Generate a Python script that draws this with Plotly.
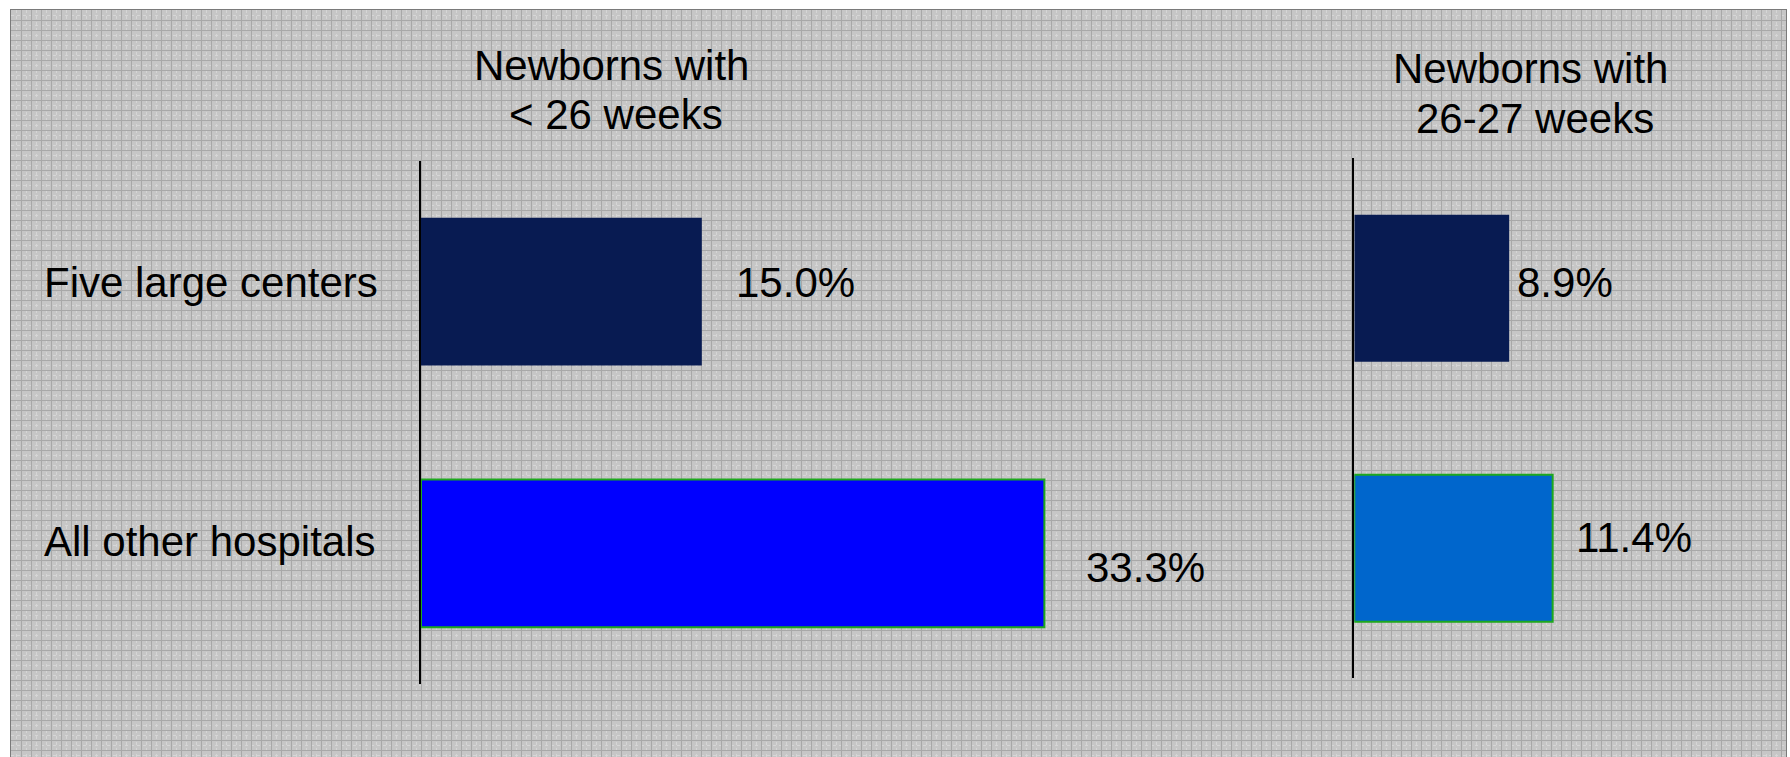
import plotly.graph_objects as go

# ---- data ----
categories = ["Five large centers", "All other hospitals"]
pct_under_26 = [15.0, 33.3]
pct_26_27 = [8.9, 11.4]
title_line1 = ["Newborns with", "Newborns with"]
title_line2 = ["&lt; 26 weeks", "26-27 weeks"]

# ---- styles ----
FONT = "Liberation Sans, Arial, sans-serif"
FS = 42
NAVY = "#081B52"
colors_left = [NAVY, "#0000FF"]
colors_right = [NAVY, "#0066CC"]
outline_colors = [NAVY, "#1EA81E"]
outline_widths = [0, 2]
# label offsets in px (x from bar end, y upward)
dx_left, dy_left = [32, 40], [9, -14]
dx_right, dy_right = [6, 21], [6, 11]
cat_dy = [9, 12]

W, H = 1790, 757

fig = go.Figure()

# background texture subplot (empty)
fig.add_trace(go.Scatter(x=[], y=[], xaxis="x", yaxis="y", showlegend=False, hoverinfo="skip"))

fig.add_trace(go.Bar(
    y=categories, x=pct_under_26, orientation="h", xaxis="x2", yaxis="y2",
    width=0.565, marker=dict(color=colors_left, line=dict(color=outline_colors, width=outline_widths)),
    showlegend=False, hoverinfo="skip"))
fig.add_trace(go.Bar(
    y=categories, x=pct_26_27, orientation="h", xaxis="x3", yaxis="y3",
    width=0.565, marker=dict(color=colors_right, line=dict(color=outline_colors, width=outline_widths)),
    showlegend=False, hoverinfo="skip"))

txtfont = dict(family=FONT, size=FS, color="black")
annotations = []
for cat, v, dx, dy in zip(categories, pct_under_26, dx_left, dy_left):
    annotations.append(dict(x=v, y=cat, xref="x2", yref="y2", text=f"{v:.1f}%", showarrow=False,
                            xanchor="left", yanchor="middle", xshift=dx, yshift=dy, font=txtfont))
for cat, v, dx, dy in zip(categories, pct_26_27, dx_right, dy_right):
    annotations.append(dict(x=v, y=cat, xref="x3", yref="y3", text=f"{v:.1f}%", showarrow=False,
                            xanchor="left", yanchor="middle", xshift=dx, yshift=dy, font=txtfont))
for cat, dy in zip(categories, cat_dy):
    annotations.append(dict(x=0.0235, y=cat, xref="paper", yref="y2", text=cat, showarrow=False,
                            xanchor="left", yanchor="middle", yshift=dy, font=txtfont))
title_x = [611 / W, 1530 / W]
title_y1 = [1 - 66 / H, 1 - 68 / H]
title_y2 = [1 - 115 / H, 1 - 118 / H]
for t1, t2, xc, y1, y2 in zip(title_line1, title_line2, title_x, title_y1, title_y2):
    annotations.append(dict(x=xc, y=y1, xref="paper", yref="paper", text=t1, showarrow=False,
                            xanchor="center", yanchor="middle", font=txtfont))
    annotations.append(dict(x=xc, y=y2, xref="paper", yref="paper", text=t2, showarrow=False,
                            xanchor="center", yanchor="middle", xshift=5, font=txtfont))

cat_axis = dict(type="category", categoryorder="array", categoryarray=categories,
                range=[1.5, -0.5], showline=True, linecolor="black", linewidth=2,
                showticklabels=False, showgrid=False, zeroline=False, ticks="", fixedrange=True)

frame_x0, frame_x1, frame_top = 11 / W, 1786 / W, 1 - 10 / H

fig.update_layout(
    width=W, height=H,
    margin=dict(l=0, r=0, t=0, b=0, pad=0),
    paper_bgcolor="white",
    plot_bgcolor="rgba(0,0,0,0)",
    font=dict(family=FONT, size=FS, color="black"),
    barmode="overlay",
    shapes=[dict(type="rect", xref="paper", yref="paper", x0=frame_x0, x1=frame_x1, y0=0, y1=frame_top,
                 fillcolor="#c6c6c6", line=dict(width=0), layer="below")],
    xaxis=dict(domain=[frame_x0, frame_x1], range=[0, 1775], dtick=10, showgrid=True,
               gridcolor="#a8a8a8", gridwidth=1, showticklabels=False, zeroline=False,
               side="top", showline=True, linecolor="#7a7a7a", linewidth=1, mirror=False,
               minor=dict(dtick=5, showgrid=True, gridcolor="#d6d6d6", griddash="dot", gridwidth=1),
               fixedrange=True),
    yaxis=dict(domain=[0, frame_top], range=[747, 0], dtick=10, showgrid=True,
               gridcolor="#a8a8a8", gridwidth=1, showticklabels=False, zeroline=False,
               showline=True, linecolor="#7a7a7a", linewidth=1, mirror=True,
               minor=dict(dtick=5, showgrid=True, gridcolor="#d6d6d6", griddash="dot", gridwidth=1),
               fixedrange=True),
    xaxis2=dict(domain=[421 / W, (421 + 748.8) / W], range=[0, 40], anchor="y2", visible=False,
                fixedrange=True),
    yaxis2=dict(domain=[1 - 684.3 / H, 1 - 160.8 / H], anchor="x2", **cat_axis),
    xaxis3=dict(domain=[1354.3 / W, 1702.3 / W], range=[0, 20], anchor="y3", visible=False,
                fixedrange=True),
    yaxis3=dict(domain=[1 - 678.2 / H, 1 - 158.3 / H], anchor="x3", **cat_axis),
    annotations=annotations,
)

fig.write_html("out.html", config={"displayModeBar": False},
               post_script="document.body.style.margin='0';")
